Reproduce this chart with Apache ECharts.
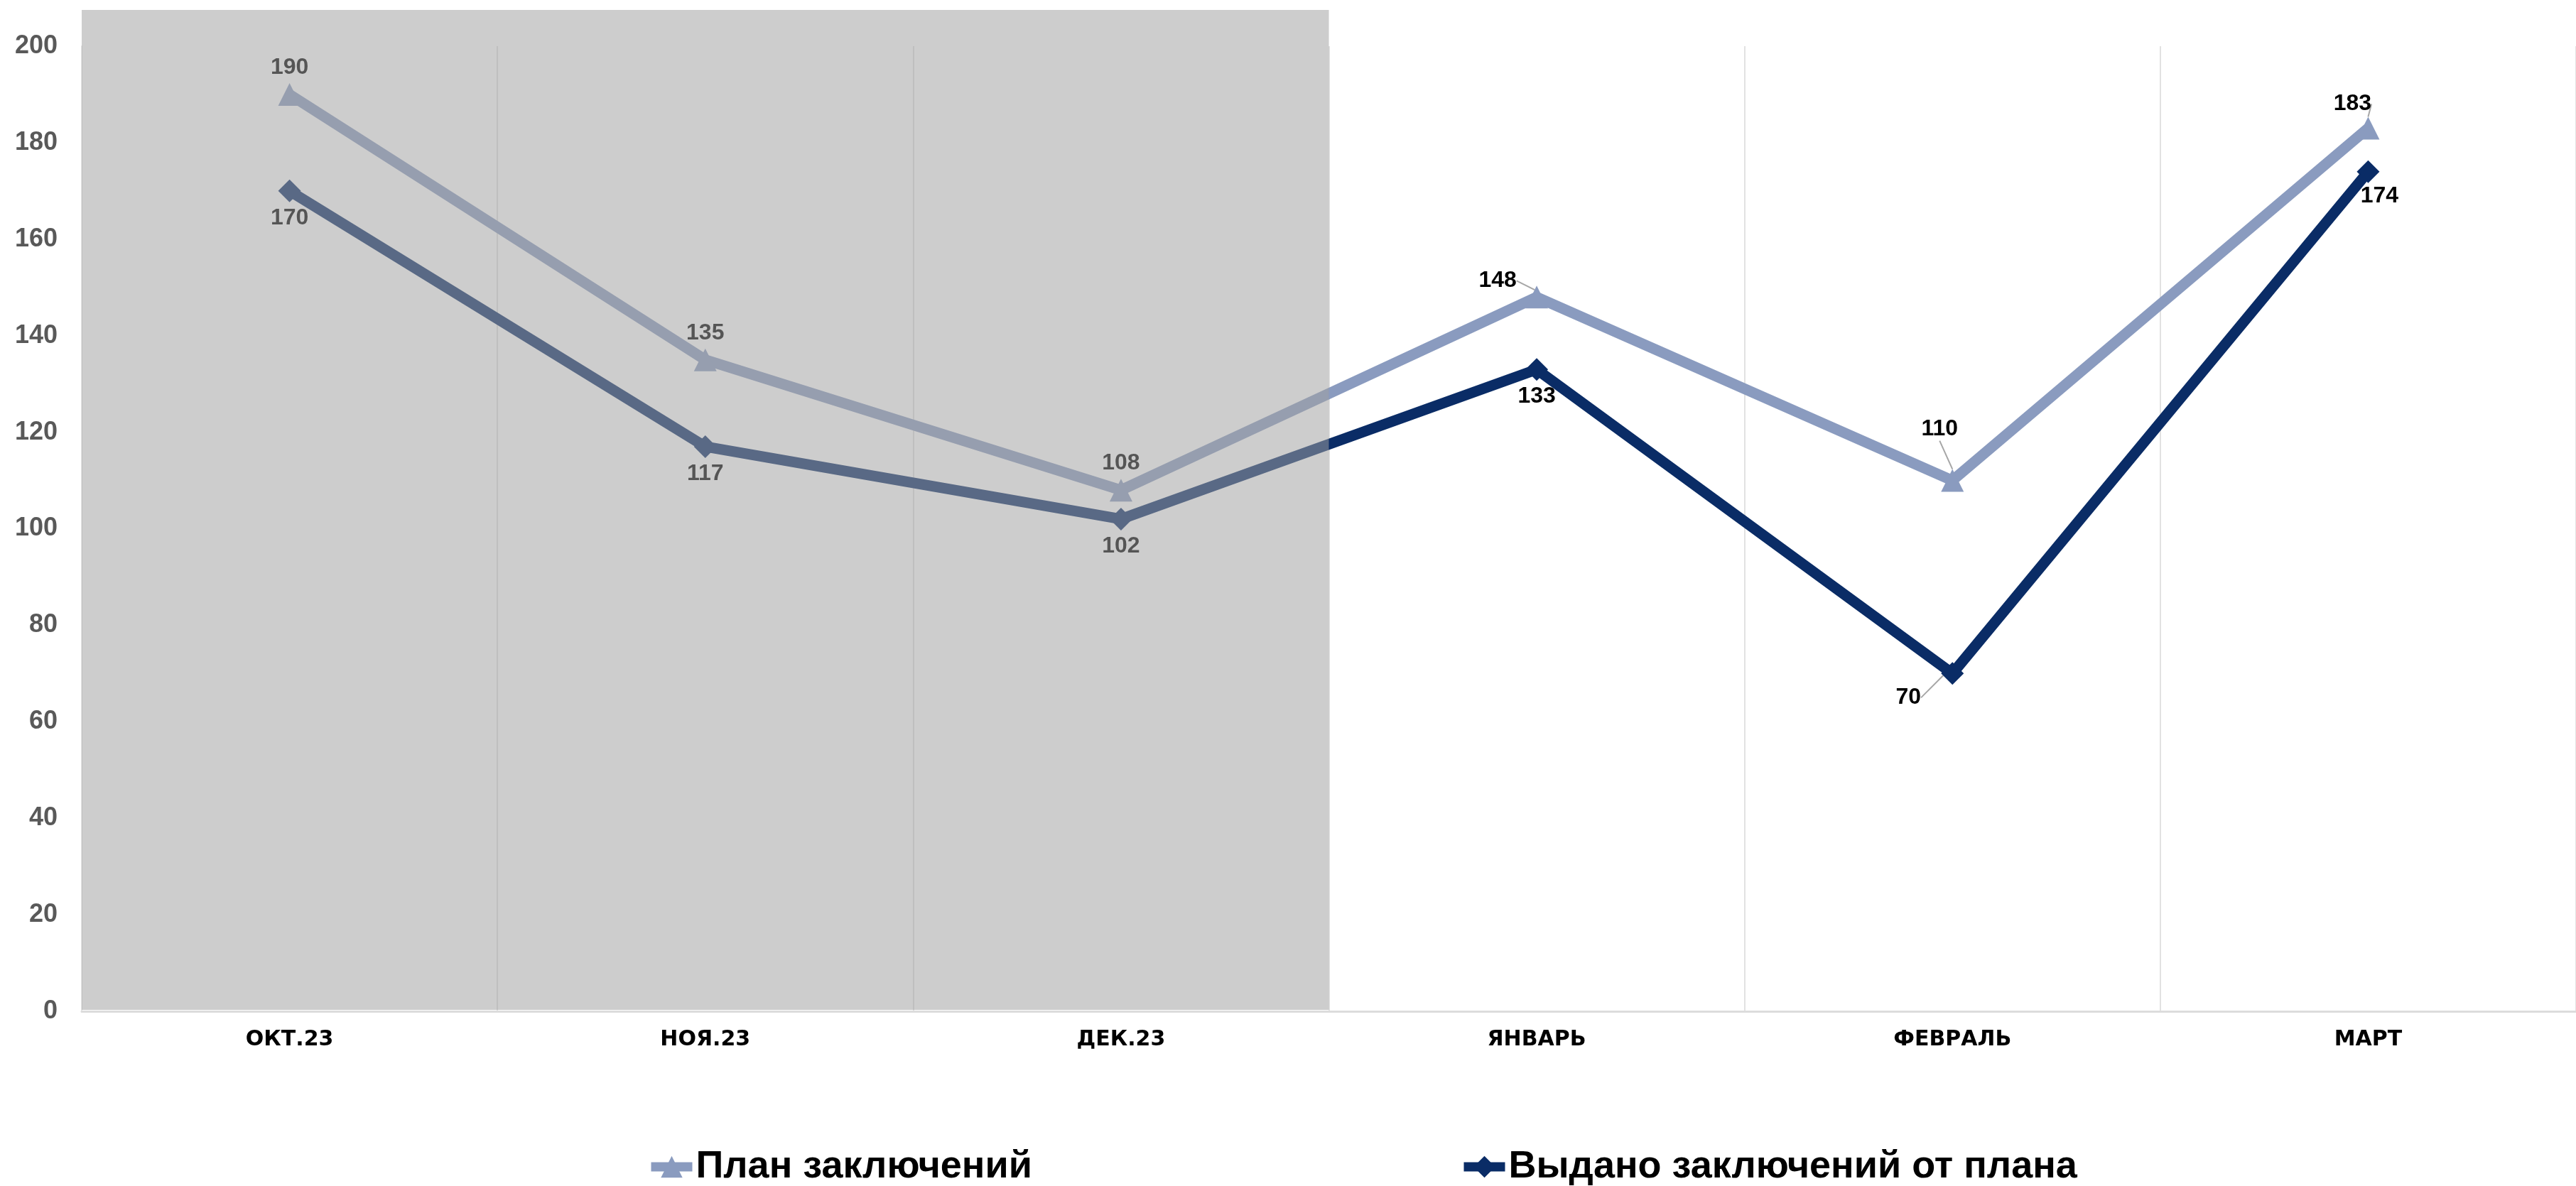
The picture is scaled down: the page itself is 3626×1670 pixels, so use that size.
<!DOCTYPE html>
<html>
<head>
<meta charset="utf-8">
<style>
  html, body { margin: 0; padding: 0; background: #ffffff; }
  #chart { width: 3626px; height: 1670px; }
</style>
<script src="https://cdn.jsdelivr.net/npm/echarts@6/dist/echarts.min.js"></script>
</head>
<body>
<div id="chart"></div>
<script>
// ---- data ----
const categories = ['ОКТ.23', 'НОЯ.23', 'ДЕК.23', 'ЯНВАРЬ', 'ФЕВРАЛЬ', 'МАРТ'];
const planValues = [190, 135, 108, 148, 110, 183];
const issuedValues = [170, 117, 102, 133, 70, 174];
const shadedCategories = ['ОКТ.23', 'НОЯ.23', 'ДЕК.23'];
const seriesNames = ['План заключений', 'Выдано заключений от плана'];
const yTicks = { min: 0, max: 200, interval: 20 };

// ---- label nudges (layout only): [dx, dy, showLeader] ----
const planLabelShift = { 3: [-55, 15, true], 4: [-18, -34, true], 5: [-22, 4, true] };
const issuedLabelShift = { 4: [-62, -4, true], 5: [16, -3, false] };

const FONT = "'Liberation Sans', Arial, sans-serif";
const shadeStart = categories.indexOf(shadedCategories[0]);
const shadeEnd = categories.indexOf(shadedCategories[shadedCategories.length - 1]) + 1;

function buildData(values, shifts) {
  return values.map(function (v, i) {
    const s = shifts[i];
    return {
      value: v,
      labelLine: { show: !!(s && s[2]), lineStyle: { color: '#a6a6a6', width: 2 } }
    };
  });
}

const chart = echarts.init(document.getElementById('chart'), null, { renderer: 'canvas' });

const legendCommon = {
  top: 1611,
  itemWidth: 58, itemHeight: 38,
  lineStyle: { width: 13 },
  textStyle: { fontSize: 54, fontWeight: 'bold', color: '#000', fontFamily: FONT }
};

const option = {
  backgroundColor: '#ffffff',
  animation: false,
  textStyle: { fontFamily: FONT },
  grid: [
    { left: 115, top: 65, width: 3534, height: 1359, containLabel: false },
    { left: 115, top: 14, width: 3534, height: 1408, containLabel: false }
  ],
  legend: [
    Object.assign({ data: [seriesNames[0]], left: 905 }, legendCommon),
    Object.assign({ data: [seriesNames[1]], left: 2049 }, legendCommon)
  ],
  xAxis: [
    {
      type: 'category',
      gridIndex: 0,
      data: categories,
      boundaryGap: true,
      axisLine: { show: true, lineStyle: { color: '#dcdcdc', width: 3 } },
      axisTick: { show: false },
      splitLine: { show: true, lineStyle: { color: '#e2e2e2', width: 2 } },
      axisLabel: { fontSize: 30, fontWeight: 'bold', color: '#000', margin: 25, fontFamily: "'DejaVu Sans', sans-serif" }
    },
    { type: 'value', gridIndex: 1, min: 0, max: categories.length, show: false }
  ],
  yAxis: [
    {
      type: 'value',
      gridIndex: 0,
      min: yTicks.min, max: yTicks.max, interval: yTicks.interval,
      axisLine: { show: true, lineStyle: { color: '#e6e6e6', width: 2 } },
      axisTick: { show: false },
      splitLine: { show: false },
      axisLabel: { fontSize: 36, fontWeight: 'bold', color: '#595959', margin: 34, fontFamily: FONT }
    },
    { type: 'value', gridIndex: 1, min: 0, max: 1, show: false }
  ],
  series: [
    {
      name: seriesNames[0],
      type: 'line',
      xAxisIndex: 0, yAxisIndex: 0,
      data: buildData(planValues, planLabelShift),
      z: 3,
      symbol: 'triangle',
      symbolSize: 32,
      lineStyle: { color: '#8a9bbf', width: 15 },
      itemStyle: { color: '#8a9bbf' },
      label: {
        show: true, position: 'top', distance: 6,
        fontSize: 32, fontWeight: 'bold', color: '#000', fontFamily: FONT
      },
      labelLayout: function (p) {
        const s = planLabelShift[p.dataIndex];
        return s ? { dx: s[0], dy: s[1] } : {};
      }
    },
    {
      name: seriesNames[1],
      type: 'line',
      xAxisIndex: 0, yAxisIndex: 0,
      data: buildData(issuedValues, issuedLabelShift),
      z: 4,
      symbol: 'diamond',
      symbolSize: 32,
      lineStyle: { color: '#0a2c66', width: 15 },
      itemStyle: { color: '#0a2c66' },
      label: {
        show: true, position: 'bottom', distance: 6,
        fontSize: 32, fontWeight: 'bold', color: '#000', fontFamily: FONT
      },
      labelLayout: function (p) {
        const s = issuedLabelShift[p.dataIndex];
        return s ? { dx: s[0], dy: s[1] } : {};
      }
    },
    {
      type: 'line',
      xAxisIndex: 1, yAxisIndex: 1,
      data: [],
      z: 20,
      silent: true,
      markArea: {
        silent: true,
        z: 20,
        itemStyle: { color: 'rgba(160,160,160,0.53)' },
        label: { show: false },
        data: [[{ xAxis: shadeStart, yAxis: 0 }, { xAxis: shadeEnd, yAxis: 1 }]]
      }
    }
  ]
};

chart.setOption(option);
</script>
</body>
</html>
